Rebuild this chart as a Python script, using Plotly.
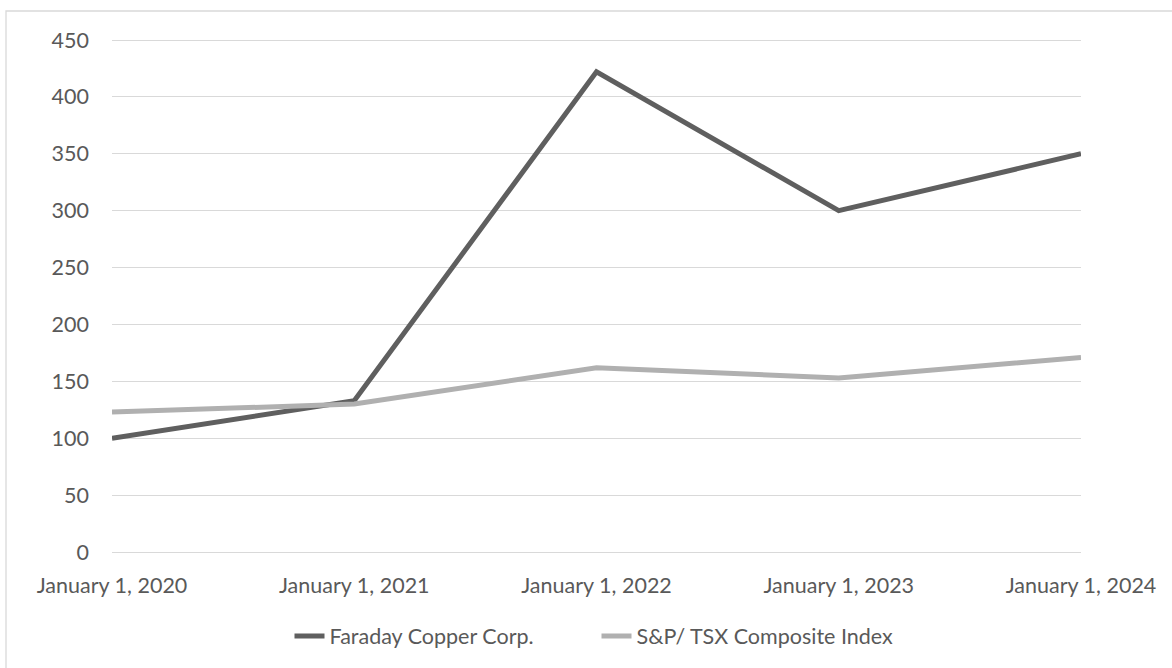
import plotly.graph_objects as go

categories = ["January 1, 2020", "January 1, 2021", "January 1, 2022", "January 1, 2023", "January 1, 2024"]
faraday = [100, 133, 422, 300, 350]
sptsx = [123, 130, 162, 153, 171]
series_names = ["Faraday Copper Corp.", "S&P/ TSX Composite Index"]
y_ticks = [0, 50, 100, 150, 200, 250, 300, 350, 400, 450]

W, H = 1172, 668
pad = 3  # px of extra room above/below so the 0 and 450 grid lines are drawn
ml, mr, mt, mb = 112, 91, 40 - pad, 116 - pad
pw, ph = W - ml - mr, H - mt - mb
u = 450.0 / (ph - 2 * pad) * pad

fig = go.Figure()
fig.add_trace(go.Scatter(x=categories, y=faraday, mode="lines", name=series_names[0],
                         line=dict(color="#5f5f5f", width=5)))
fig.add_trace(go.Scatter(x=categories, y=sptsx, mode="lines", name=series_names[1],
                         line=dict(color="#b0b0b0", width=5)))

font = dict(family="Lato, 'Open Sans', sans-serif", size=21.5, color="#595959")

# paper coords relative to the plot area
def py(pix):
    return (mt + ph - pix) / ph

fig.update_layout(
    width=W, height=H,
    margin=dict(l=ml, r=mr, t=mt, b=mb),
    paper_bgcolor="white", plot_bgcolor="white",
    font=font,
    showlegend=True,
    legend=dict(orientation="h", x=0.5, xanchor="center", y=py(636), yanchor="middle",
                font=font, tracegroupgap=0, entrywidth=262),
    xaxis=dict(type="category", range=[0, 4], showgrid=False, zeroline=False,
               showline=False, ticks="", ticklabelstandoff=15, tickfont=font),
    yaxis=dict(range=[-u, 450 + u], tickvals=y_ticks, showgrid=True, gridcolor="#d9d9d9",
               gridwidth=1.4, zeroline=False, showline=False, ticks="",
               ticklabelstandoff=22, tickfont=font),
    shapes=[dict(type="rect", xref="paper", yref="paper",
                 x0=(6 - ml) / pw, x1=(1190 - ml) / pw,
                 y0=py(690), y1=py(11),
                 line=dict(color="#d9d9d9", width=1.3), layer="below")],
)

fig.write_html("out.html", config={"displayModeBar": False},
               post_script="document.body.style.margin='0';")
